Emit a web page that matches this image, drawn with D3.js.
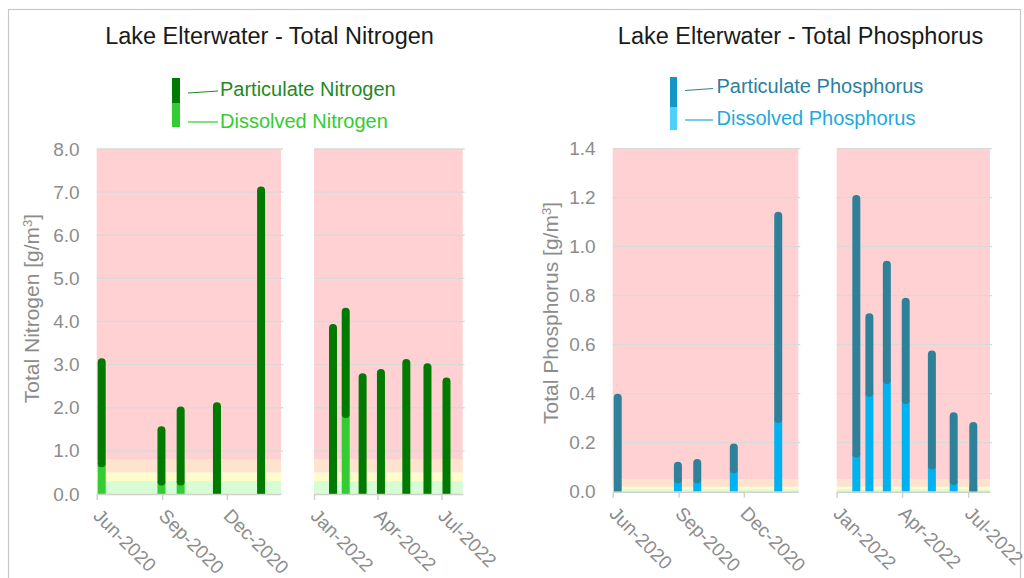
<!DOCTYPE html>
<html><head><meta charset="utf-8">
<script src="https://cdn.jsdelivr.net/npm/d3@7"></script>
<style>body{margin:0;background:#fff}svg{display:block;font-family:"Liberation Sans",Arial,sans-serif}</style>
</head><body><svg id="c" width="1024" height="578"></svg>
<script>
// ---- data ----
const sampleDates = ["2020-06-08","2020-08-31","2020-09-27","2020-11-17","2021-01-18","2022-01-28","2022-02-15","2022-03-11","2022-04-06","2022-05-12","2022-06-11","2022-07-08"];
const totalN     = [3.15,1.57,2.03,2.13,7.13,3.94,4.32,2.80,2.90,3.13,3.03,2.70];
const dissolvedN = [0.62,0.20,0.20,0.05,0.00,0.00,1.76,0.00,0.00,0.00,0.00,0.00];
const totalP     = [0.400,0.122,0.133,0.197,1.143,1.211,0.728,0.943,0.792,0.576,0.324,0.284];
const dissolvedP = [0.000,0.034,0.034,0.075,0.280,0.140,0.388,0.440,0.358,0.091,0.027,0.007];
const nTicks = [0,1,2,3,4,5,6,7,8];
const pTicks = [0,0.2,0.4,0.6,0.8,1.0,1.2,1.4];
const nBands = [[0,0.3],[0.3,0.5],[0.5,0.8],[0.8,8]];
const pBands = [[0,0.01],[0.01,0.02],[0.02,0.05],[0.05,1.4]];
const bandColors = ["#d8fdd4","#fffccc","#ffe3cf","#ffd1d3"];
const panelDomains = [["2020-06-01","2021-02-15"],["2022-01-01","2022-07-31"]];
const panelTicks = [["2020-06-01","2020-09-01","2020-12-01"],["2022-01-01","2022-04-01","2022-07-01"]];

const parse = d3.timeParse("%Y-%m-%d");
const fmt = d3.timeFormat("%b-%Y");
const svg = d3.select("#c");

// frame
svg.append("rect").attr("x",8.5).attr("y",9.5).attr("width",1012).attr("height",600)
  .attr("fill","none").attr("stroke","#c8c8c8").attr("stroke-width",1.2);

function chart(cfg){
  const g = svg.append("g");
  const y = d3.scaleLinear().domain(cfg.yDomain).range(cfg.yRange);
  g.append("text").attr("x",cfg.titleX).attr("y",44).attr("text-anchor","middle")
    .attr("font-size",23.5).attr("fill","#1a1a1a").text(cfg.title);
  // y axis title
  const yt = g.append("text").attr("transform",`translate(${cfg.yTitleX},${cfg.yTitleY}) rotate(-90)`)
    .attr("text-anchor","middle").attr("font-size",21).attr("fill","#8c8c8c");
  yt.append("tspan").text(cfg.yTitle+" [g/m");
  yt.append("tspan").attr("baseline-shift","super").attr("font-size",13).text("3");
  yt.append("tspan").text("]");
  // y tick labels
  const ya = g.append("g").attr("transform",`translate(${cfg.panels[0][0]},0)`)
    .call(d3.axisLeft(y).tickValues(cfg.ticks).tickFormat(d3.format(".1f")).tickSize(0).tickPadding(17));
  ya.select(".domain").remove();
  ya.selectAll("text").attr("font-size",19).attr("fill","#8c8c8c").attr("font-family","Liberation Sans, Arial, sans-serif");
  const dates = sampleDates.map(parse);
  cfg.panels.forEach((rng,pi)=>{
    const x = d3.scaleTime().domain(panelDomains[pi].map(parse)).range(rng);
    const clipId = cfg.id+"clip"+pi;
    g.append("clipPath").attr("id",clipId).append("rect")
      .attr("x",rng[0]).attr("y",y(cfg.yDomain[1])-10).attr("width",rng[1]-rng[0]).attr("height",y(0)-y(cfg.yDomain[1])+10);
    const p = g.append("g");
    p.selectAll("rect.band").data(cfg.bands).join("rect").attr("class","band")
      .attr("x",rng[0]).attr("width",rng[1]-rng[0])
      .attr("y",d=>y(d[1])).attr("height",d=>y(d[0])-y(d[1]))
      .attr("fill",(d,i)=>bandColors[i]);
    p.selectAll("line.grid").data(cfg.ticks.filter(t=>t>0)).join("line").attr("class","grid")
      .attr("x1",rng[0]).attr("x2",rng[1]+2).attr("y1",d=>y(d)).attr("y2",d=>y(d))
      .attr("stroke","#d9d9d9").attr("stroke-width",1.3);
    // bars
    const [d0,d1] = x.domain();
    const idx = d3.range(dates.length).filter(i=>dates[i]>=d0 && dates[i]<=d1);
    const bw = 8, r = 4;
    const bars = p.append("g").attr("clip-path",`url(#${clipId})`);
    idx.forEach(i=>{
      const cx = x(dates[i]);
      const yT = y(cfg.total[i]), yD = y(cfg.dissolved[i]), y0 = y(0);
      if (cfg.dissolved[i] > 0){
        const top = Math.max(yT+r, yD - r);
        bars.append("rect").attr("x",cx-bw/2).attr("width",bw).attr("y",top).attr("height",y0-top)
          .attr("fill",cfg.colD);
      }
      const bottom = (y0 - yD < r) ? y0 + r : yD;
      bars.append("rect").attr("x",cx-bw/2).attr("width",bw).attr("y",yT).attr("height",bottom-yT)
        .attr("rx",r).attr("ry",r).attr("fill",cfg.colP);
    });
    // x axis
    const xa = p.append("g").attr("transform",`translate(0,${y(0)})`)
      .call(d3.axisBottom(x).tickValues(panelTicks[pi].map(parse)).tickFormat(fmt).tickSize(6).tickSizeOuter(0));
    xa.select(".domain").attr("stroke","#d0d0d0").attr("stroke-width",1.5);
    xa.selectAll(".tick line").attr("stroke","#d0d0d0").attr("stroke-width",1.5);
    xa.selectAll("text").attr("font-size",19).attr("fill","#8c8c8c")
      .attr("font-family","Liberation Sans, Arial, sans-serif")
      .attr("text-anchor","start").attr("dy",0).attr("y",0)
      .attr("transform","translate(-5,23) rotate(45)");
  });
  // legend
  const L = cfg.legend;
  g.append("rect").attr("x",L.x).attr("y",L.y0).attr("width",L.w).attr("height",L.ym-L.y0).attr("fill",L.c1);
  g.append("rect").attr("x",L.x).attr("y",L.ym).attr("width",L.w).attr("height",L.y1-L.ym).attr("fill",L.c2);
  g.append("line").attr("x1",L.lx0).attr("x2",L.lx1).attr("y1",L.l1y+2).attr("y2",L.l1y).attr("stroke",L.t1).attr("stroke-width",1.2);
  g.append("line").attr("x1",L.lx0).attr("x2",L.lx1).attr("y1",L.l2y).attr("y2",L.l2y).attr("stroke",L.t2).attr("stroke-width",1.2);
  g.append("text").attr("x",L.tx).attr("y",L.b1).attr("font-size",20).attr("fill",L.t1).text(L.s1);
  g.append("text").attr("x",L.tx).attr("y",L.b2).attr("font-size",20).attr("fill",L.t2).text(L.s2);
}

chart({id:"n", title:"Lake Elterwater - Total Nitrogen", titleX:269.5,
  yTitle:"Total Nitrogen", yTitleX:39, yTitleY:308.5,
  yDomain:[0,8], yRange:[494,149], ticks:nTicks, bands:nBands,
  panels:[[96.7,281],[314,462.7]],
  total:totalN, dissolved:dissolvedN, colP:"#007a00", colD:"#33cc33",
  legend:{x:172,w:8,y0:78,ym:103,y1:127,c1:"#007a00",c2:"#33cc33",lx0:188,lx1:218,l1y:91,l2y:122,
    tx:220,b1:96,b2:128,t1:"#1f8a1f",t2:"#33cc33",s1:"Particulate Nitrogen",s2:"Dissolved Nitrogen"}});

chart({id:"p", title:"Lake Elterwater - Total Phosphorus", titleX:800.5,
  yTitle:"Total Phosphorus", yTitleX:558, yTitleY:313,
  yDomain:[0,1.4], yRange:[491.7,148.7], ticks:pTicks, bands:pBands,
  panels:[[612.7,798.3],[836.7,990]],
  total:totalP, dissolved:dissolvedP, colP:"#2e8199", colD:"#00b2f0",
  legend:{x:670,w:7,y0:77,ym:107,y1:130,c1:"#1296c6",c2:"#4fd0fc",lx0:685,lx1:713,l1y:88.5,l2y:120,
    tx:716.5,b1:93,b2:125,t1:"#2a7fa0",t2:"#1ea9dc",s1:"Particulate Phosphorus",s2:"Dissolved Phosphorus"}});
</script></body></html>
